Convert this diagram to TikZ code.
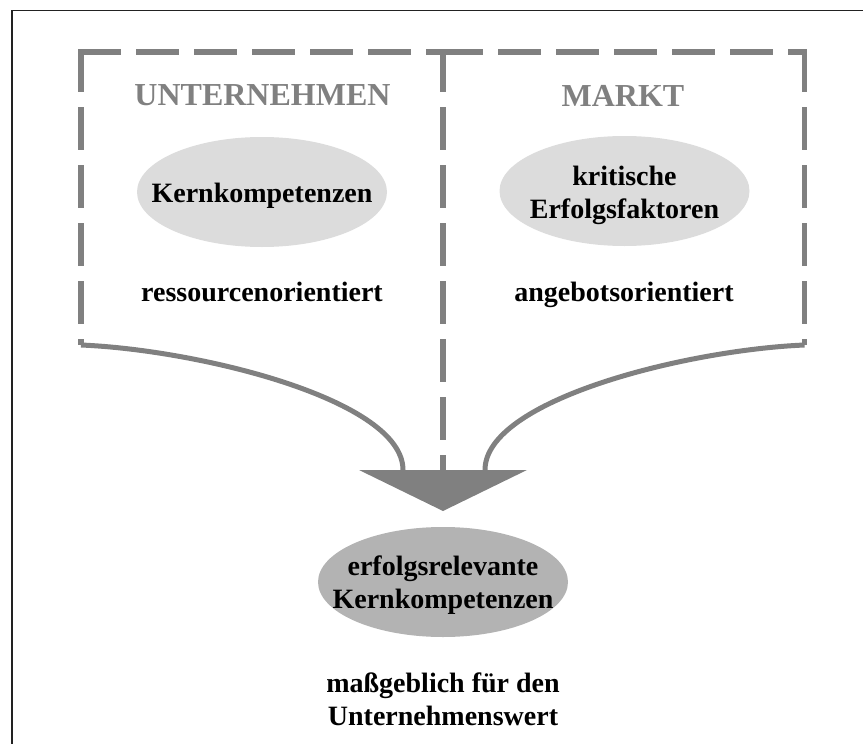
\documentclass[tikz,border=0pt]{standalone}
\usepackage{fontspec}
\setmainfont{Liberation Serif}
\usetikzlibrary{shapes.geometric}

\definecolor{linegray}{HTML}{808080}
\definecolor{lightfill}{HTML}{DCDCDC}
\definecolor{darkfill}{HTML}{B3B3B3}
\definecolor{framecol}{HTML}{222222}

\tikzset{
  boxedge/.style={draw=linegray, line width=5.5pt, line cap=butt,
                  dash pattern=on 43pt off 15pt},
  flow/.style={draw=linegray, line width=5pt},
  blob/.style={ellipse, draw=none, minimum width=250pt, minimum height=110pt, inner sep=0pt},
  heading/.style={text=linegray, font=\fontsize{32}{38}\selectfont\bfseries, anchor=base},
  label/.style={text=black, font=\fontsize{28}{33}\selectfont\bfseries, align=center},
}

\begin{document}
\begin{tikzpicture}[x=1pt,y=-1pt]
\useasboundingbox (0,0) rectangle (863,744);

% outer frame
\draw[framecol, line width=1.5pt] (12,744) -- (12,10.5) -- (863,10.5);

% end points of the two flows
\coordinate (lfoot) at (81,345);
\coordinate (rfoot) at (804.5,345);
\coordinate (tipL) at (403,470);
\coordinate (tipR) at (485,470);

% dashed frames of the two areas
\draw[boxedge] (81,49) -- (lfoot);
\draw[boxedge] (804.5,49) -- (rfoot);
\draw[boxedge] (443,49) -- (443,470);
\draw[boxedge] (78,52) -- (446,52);
\draw[boxedge] (440,52) -- (807,52);

% flows into the funnel
\draw[flow] (lfoot) .. controls (200,350) and (403,400) .. (tipL);
\draw[flow] (rfoot) .. controls (686,350) and (485,400) .. (tipR);

% funnel
\coordinate (fa) at (359,470);
\coordinate (fb) at (527,470);
\coordinate (fc) at (443,511);
\fill[linegray] (fa) -- (fb) -- (fc) -- cycle;

% headings
\node[heading] (hU) at (262.5,105) {UNTERNEHMEN};
\node[heading] (hM) at (623,106) {MARKT};

% ellipses
\node[blob, fill=lightfill] (eK) at (262,192) {};
\node[blob, fill=lightfill] (eE) at (624.5,191) {};
\node[blob, fill=darkfill] (eR) at (443,582) {};

\node[label, anchor=base] (tK) at (262,202) {Kernkompetenzen};
\node[label] (tE) at (624.5,195) {kritische\\Erfolgsfaktoren};
\node[label] (tR) at (443,585) {erfolgsrelevante\\Kernkompetenzen};

\node[label, anchor=base] (tRes) at (262,301) {ressourcenorientiert};
\node[label, anchor=base] (tAng) at (624,301) {angebotsorientiert};

\node[label] (tW) at (443,699) {maßgeblich für den\\Unternehmenswert};
\end{tikzpicture}
\end{document}
